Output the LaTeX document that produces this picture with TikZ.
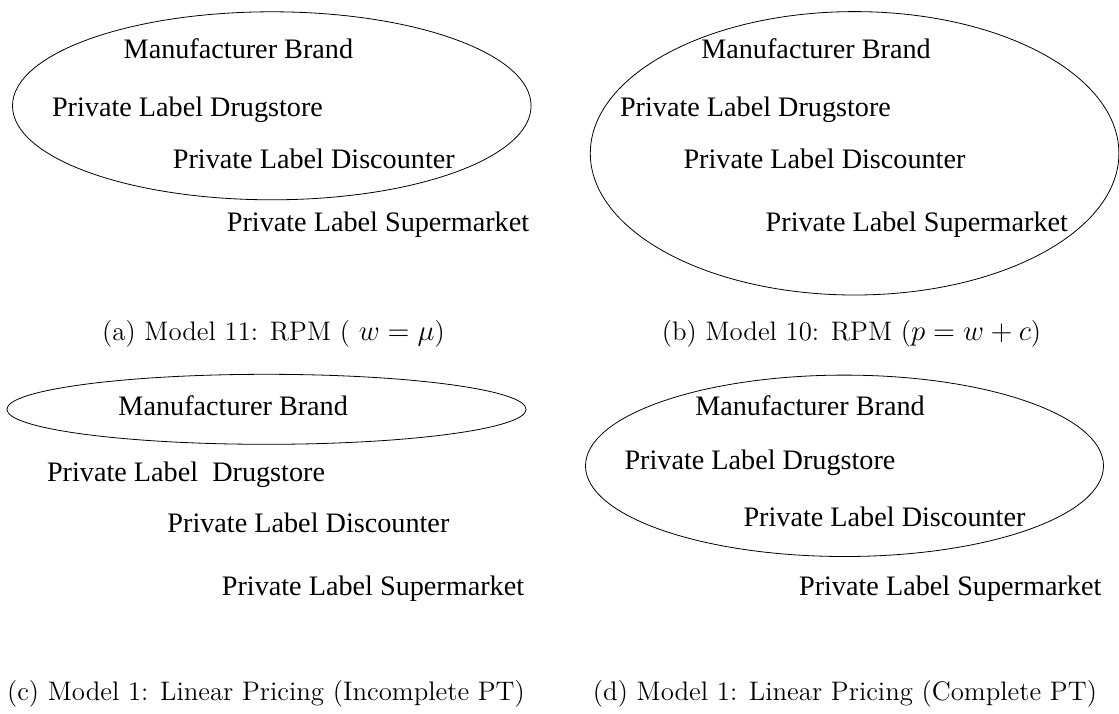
\documentclass[tikz,border=0pt]{standalone}
\usepackage{fontspec}
\newfontfamily\labelfont{Liberation Serif}
\usepackage{tikz}
\usetikzlibrary{shapes, calc}
\tikzset{
  x=0.5pt, y=-0.5pt,
  every node/.style={align=center}
}

\begin{document}
\begin{tikzpicture}
\tikzstyle{brand}=[anchor=base, inner sep=0pt,
  font=\labelfont\fontsize{14.1}{16}\selectfont]
\tikzstyle{group}=[ellipse, draw, thin, inner sep=0pt]
\tikzstyle{caption}=[anchor=base, inner sep=0pt,
  font=\fontsize{13.4}{16}\selectfont]

\useasboundingbox (0,0) rectangle (1119,713);

% model 11
\node[group, minimum width=259.3pt, minimum height=94pt](ga) at (271.8,105.8){};
\node[brand](mba) at (238.4,58.3){Manufacturer Brand};
\node[brand](dra) at (187.5,116.7){Private Label Drugstore};
\node[brand](dia) at (313.8,168.3){Private Label Discounter};
\node[brand](sua) at (378,231.7){Private Label Supermarket};
\node[caption](capa) at (273.5,340){(a) Model 11: RPM ( $w=\mu$)};

% model 10
\node[group, minimum width=264.3pt, minimum height=141.7pt](gb) at (854.6,153.3){};
\node[brand](mbb) at (816,58.3){Manufacturer Brand};
\node[brand](drb) at (755.5,116.7){Private Label Drugstore};
\node[brand](dib) at (824.5,168.3){Private Label Discounter};
\node[brand](sub) at (916.8,231.7){Private Label Supermarket};
\node[caption](capb) at (851.5,340){(b) Model 10: RPM ($p=w+c$)};

% model 1, incomplete PT
\node[group, minimum width=259.6pt, minimum height=35pt](gc) at (266.5,409.3){};
\node[brand](mbc) at (233.2,415.5){Manufacturer Brand};
\node[brand](drc) at (186,481){Private Label\ \ Drugstore};
\node[brand](dic) at (308.4,532.7){Private Label Discounter};
\node[brand](suc) at (373,595){Private Label Supermarket};
\node[caption](capc) at (266,700){(c) Model 1: Linear Pricing (Incomplete PT)};

% model 1, complete PT
\node[group, minimum width=259pt, minimum height=90.7pt](gd) at (844.5,465.8){};
\node[brand](mbd) at (810,415.5){Manufacturer Brand};
\node[brand](drd) at (760,469.5){Private Label Drugstore};
\node[brand](did) at (884.5,526.3){Private Label Discounter};
\node[brand](sud) at (950.2,595){Private Label Supermarket};
\node[caption](capd) at (845,700){(d) Model 1: Linear Pricing (Complete PT)};

\end{tikzpicture}
\end{document}
